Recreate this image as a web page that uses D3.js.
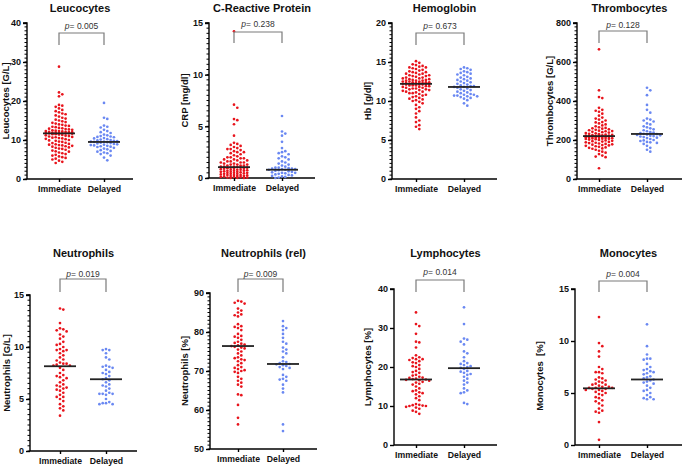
<!DOCTYPE html>
<html><head><meta charset="utf-8">
<script src="https://cdn.jsdelivr.net/npm/d3@7"></script>
<style>
body{margin:0;background:#fff}
svg{display:block}
text{font-family:"Liberation Sans",Arial,Helvetica,sans-serif}
</style>
</head><body>
<svg id="chart" width="685" height="469"></svg>
<script>
// ---------------- DATA ----------------
const categories = ["Immediate", "Delayed"];
const titles = ["Leucocytes", "C-Reactive Protein", "Hemoglobin", "Thrombocytes",
                "Neutrophils", "Neutrophils (rel)", "Lymphocytes", "Monocytes"];
const yTitles = ["Leucocytes [G/L]", "CRP [mg/dl]", "Hb [g/dl]", "Thrombocytes [G/L]",
                 "Neutrophils [G/L]", "Neutrophils [%]", "Lymphocytes [%]", "Monocytes\u00a0\u00a0[%]"];
const yMin = [0, 0, 0, 0, 0, 50, 0, 0];
const yMax = [40, 15, 20, 800, 15, 90, 40, 15];
const majorStep = [10, 5, 5, 200, 5, 10, 10, 5];
const minorStep = [1, 0.5, 0.5, 20, 0.5, 1, null, null];
const pValues = ["0.005", "0.238", "0.673", "0.128", "0.019", "0.009", "0.014", "0.004"];
const medianImmediate = [11.7, 1.05, 12.2, 220, 8.15, 76.4, 16.8, 5.45];
const medianDelayed = [9.5, 0.8, 11.8, 231, 6.9, 71.8, 19.7, 6.3];

const leucImm = [28.8,22.2,21.7,21.2,19.0,18.8,18.5,18.1,17.7,17.4,17.1,16.8,16.6,16.3,16.0,15.7,15.5,15.2,15.0,14.8,14.6,14.4,14.2,14.0,13.9,13.7,13.6,13.4,13.3,13.1,13.0,12.9,12.8,12.7,12.6,12.5,12.4,12.3,12.3,12.2,12.1,12.1,12.0,12.0,11.9,11.9,11.8,11.8,11.8,11.7,11.7,11.7,
  11.6,11.5,11.5,11.4,11.3,11.2,11.1,11.0,10.9,10.8,10.7,10.6,10.5,10.4,10.3,10.2,10.0,9.9,9.8,9.6,9.5,9.3,9.2,9.0,8.9,8.8,8.7,8.6,8.5,8.4,8.3,8.1,8.0,7.8,7.7,7.5,7.3,7.1,7.0,6.8,6.6,6.4,6.2,6.0,5.8,5.6,5.4,5.2,5.0,4.7,4.4,4.1];
const leucDel = [19.5,15.7,15.4,13.7,13.4,13.2,12.6,12.3,12.0,11.8,11.4,11.2,11.0,10.9,10.8,10.7,10.5,10.4,10.2,10.1,10.0,9.9,9.8,9.7,9.6,9.6,9.5,9.4,9.3,9.2,9.1,9.0,8.9,8.8,8.7,8.6,8.5,8.4,8.3,8.2,8.0,7.8,7.6,7.4,7.2,7.0,6.8,6.6,6.4,6.0,5.5,4.8];

const crpImm = [14.2,7.1,6.8,5.7,5.6,5.2,4.1,3.4,3.3,3.2,3.1,3.0,2.9,2.8,2.8,2.7,2.6,2.5,2.5,2.4,2.3,2.2,2.1,2.0,2.0,1.9,1.9,1.8,1.8,1.7,1.7,1.6,1.6,1.5,1.5,1.5,1.4,1.4,1.3,1.3,1.3,1.2,1.2,1.2,1.1,1.1,1.1,1.05,
  1.0,1.0,1.0,0.95,0.9,0.9,0.9,0.85,0.8,0.8,0.8,0.75,0.7,0.7,0.7,0.65,0.6,0.6,0.6,0.55,0.5,0.5,0.5,0.45,0.4,0.4,0.4,0.35,0.3,0.3,0.3,0.25,0.2,0.2,0.2,0.15,0.1,0.1,0.1,0.05,0.05,0.02,0.0,0.0];
const crpDel = [6.0,4.5,4.3,4.1,3.5,2.9,2.6,2.5,2.4,2.3,2.1,2.0,1.9,1.8,1.6,1.5,1.4,1.3,1.2,1.1,1.0,1.0,0.95,0.9,0.9,0.85,0.85,0.8,0.8,0.75,0.7,0.65,0.6,0.55,0.5,0.5,0.45,0.4,0.35,0.3,0.25,0.2,0.15,0.1,0.05,0.0];

const hbImm = [15.1,14.9,14.7,14.6,14.5,14.4,14.3,14.3,14.2,14.1,14.0,13.9,13.8,13.7,13.7,13.6,13.5,13.5,13.4,13.3,13.3,13.2,13.2,13.1,13.0,13.0,12.9,12.9,12.8,12.8,12.7,12.7,12.6,12.6,12.6,12.5,12.5,12.5,12.4,12.4,12.4,12.3,12.3,12.3,12.3,12.2,12.2,12.2,12.2,12.2,12.2,
  12.1,12.1,12.1,12.0,12.0,12.0,11.9,11.9,11.8,11.8,11.7,11.7,11.6,11.6,11.5,11.5,11.4,11.4,11.3,11.2,11.2,11.1,11.0,11.0,10.9,10.8,10.7,10.6,10.5,10.4,10.3,10.2,10.1,10.0,9.9,9.7,9.5,9.2,9.0,8.7,8.4,7.9,7.5,7.3,6.9,6.7,6.4];
const hbDel = [14.3,14.2,14.1,14.0,13.8,13.7,13.6,13.5,13.4,13.3,13.1,13.0,12.9,12.8,12.7,12.6,12.5,12.4,12.3,12.2,12.1,12.0,11.9,11.9,11.8,11.8,11.7,11.6,11.5,11.4,11.3,11.2,11.1,11.0,10.9,10.8,10.8,10.7,10.7,10.6,10.6,10.5,10.4,10.3,10.1,9.7,9.4];

const thrImm = [665,455,420,415,365,355,350,345,335,325,315,310,305,300,292,290,285,280,275,270,265,262,260,258,255,252,250,248,246,245,242,240,238,236,234,232,230,228,226,225,224,223,222,221,220,219,218,218,
  217,216,215,214,213,212,211,210,209,208,207,206,205,204,202,200,198,196,194,192,190,188,186,184,182,180,178,176,174,172,170,168,165,162,160,157,155,150,145,140,135,128,120,115,112,55];
const thrDel = [468,455,430,380,355,340,310,305,300,295,285,280,270,265,260,255,250,245,240,238,235,232,230,228,226,224,222,220,218,215,212,210,205,200,198,195,190,188,185,180,170,160,150,140];

const neuImm = [13.7,13.6,12.3,11.8,11.7,11.6,11.5,11.2,11.0,10.8,10.5,10.3,10.2,10.0,9.8,9.7,9.7,9.6,9.4,9.2,9.0,8.8,8.7,8.5,8.4,8.4,8.3,8.2,8.2,8.0,7.8,7.5,7.3,7.2,7.1,7.0,6.8,6.6,6.4,6.3,6.2,6.1,6.0,5.9,5.8,5.6,5.4,5.2,5.2,5.0,4.8,4.5,4.3,4.1,3.9,3.4];
const neuDel = [9.8,9.7,9.7,9.4,9.0,8.8,8.2,8.1,8.1,8.0,7.8,7.6,7.5,7.4,7.2,7.0,6.9,6.8,6.6,6.4,6.3,6.2,6.0,5.8,5.6,5.5,5.5,5.5,5.4,5.0,4.7,4.6,4.6,4.5,4.5];

const neuRelImm = [88.0,87.8,87.5,87.3,86.0,85.5,85.0,84.5,84.3,84.0,82.0,81.5,81.3,81.0,80.5,79.5,79.0,78.8,78.5,78.0,77.5,77.2,77.0,76.8,76.6,76.4,76.2,76.0,75.8,75.5,75.0,74.5,74.0,73.5,73.3,73.0,72.8,72.5,72.0,71.5,71.0,70.8,70.5,70.2,70.0,69.8,69.5,68.5,68.0,67.5,67.0,66.5,66.0,64.0,63.8,61.3,58.0,56.3];
const neuRelDel = [82.8,81.5,81.0,80.5,79.5,78.5,77.5,77.0,76.0,75.5,75.0,74.5,73.5,72.5,72.3,72.0,71.8,71.7,71.5,71.3,71.0,70.8,70.5,69.0,68.5,68.0,67.8,67.5,66.5,65.5,64.5,56.3,54.6];

const lymImm = [34.0,31.0,30.5,28.5,26.5,26.3,25.0,23.0,22.5,22.3,22.0,22.0,21.8,21.5,21.2,21.0,20.5,20.2,20.0,19.5,19.0,18.7,18.5,18.0,17.8,17.5,17.3,17.2,17.0,16.9,16.8,16.7,16.6,16.5,16.2,16.0,15.7,15.5,15.0,14.5,14.0,13.8,13.5,13.3,13.0,12.5,12.0,11.5,10.5,10.3,10.2,10.1,10.0,10.0,9.8,9.6,9.3,8.8,8.5,8.0];
const lymDel = [35.3,31.0,27.3,27.0,26.5,25.8,24.0,23.5,22.5,21.5,21.0,20.8,20.5,20.2,20.0,19.8,19.5,19.0,18.8,18.5,18.2,18.0,17.5,17.0,16.5,16.0,15.5,14.5,14.0,13.5,13.3,10.8,10.5];

const monoImm = [12.3,9.8,9.5,9.0,8.5,7.5,7.3,7.0,7.0,6.9,6.5,6.4,6.3,6.2,6.1,6.0,5.9,5.8,5.8,5.7,5.6,5.6,5.5,5.5,5.5,5.4,5.4,5.3,5.3,5.2,5.1,5.0,4.9,4.8,4.6,4.5,4.3,4.2,4.0,3.8,3.5,3.3,3.2,3.1,2.2,0.5];
const monoDel = [11.6,9.5,8.7,8.3,8.3,8.2,7.8,7.5,7.3,7.2,7.1,7.0,6.9,6.8,6.6,6.5,6.4,6.3,6.2,6.1,6.0,5.9,5.7,5.5,5.3,5.2,5.0,4.8,4.6,4.5,4.4,4.4];

const immediateSeries = [leucImm, crpImm, hbImm, thrImm, neuImm, neuRelImm, lymImm, monoImm];
const delayedSeries = [leucDel, crpDel, hbDel, thrDel, neuDel, neuRelDel, lymDel, monoDel];

// ---------------- LAYOUT ----------------
const layout = [
  {ax:27,  xe:133, c1:59,  c2:104, yb:179, yt:23,  brT:33,  brB:45,  pY:29,  tY:12,  labX:6},
  {ax:209, xe:315, c1:234, c2:282, yb:178, yt:23,  brT:32,  brB:43,  pY:27,  tY:12,  labX:185},
  {ax:392, xe:497, c1:416, c2:464, yb:179, yt:23,  brT:33,  brB:45,  pY:29,  tY:12,  labX:368},
  {ax:577, xe:682, c1:599, c2:647, yb:179, yt:23,  brT:31,  brB:43,  pY:28,  tY:12,  labX:550},
  {ax:30,  xe:137, c1:60,  c2:106, yb:451, yt:295, brT:279, brB:292, pY:277, tY:257, labX:6.5},
  {ax:210, xe:317, c1:238, c2:283, yb:449, yt:293, brT:279, brB:292, pY:277, tY:257, labX:185},
  {ax:394, xe:497, c1:416, c2:464, yb:445, yt:289, brT:280, brB:292, pY:275, tY:257, labX:368},
  {ax:575, xe:682, c1:599, c2:647, yb:445, yt:289, brT:281, brB:292, pY:277, tY:257, labX:540}
];

const RED = "#e8141c", BLUE = "#6a88f2";
const svg = d3.select("#chart");

// beeswarm placement with limited half-width; overlaps allowed when full
function swarm(values, y, cx, d, maxW) {
  const pts = values.map(v => ({v, y: y(v)})).sort((a, b) => a.y - b.y);
  const placed = [];
  const n = Math.floor(maxW / d);
  pts.forEach(p => {
    let best = null, bestScore = -1;
    for (let k = 0; k <= 2 * n; k++) {
      const off = k === 0 ? 0 : (k % 2 ? 1 : -1) * Math.ceil(k / 2) * d;
      const x = cx + off;
      let minD = Infinity;
      for (const q of placed) {
        const dd = (q.x - x) ** 2 + (q.y - p.y) ** 2;
        if (dd < minD) minD = dd;
      }
      if (minD >= d * d * 0.92) { best = x; break; }
      if (minD > bestScore) { bestScore = minD; best = x; }
    }
    p.x = best;
    placed.push(p);
  });
  return placed;
}

titles.forEach((title, i) => {
  const L = layout[i];
  const g = svg.append("g");
  const y = d3.scaleLinear().domain([yMin[i], yMax[i]]).range([L.yb, L.yt]);
  const x = d3.scalePoint().domain(categories).range([L.c1, L.c2]);

  g.append("text").attr("x", (L.ax + L.xe) / 2).attr("y", L.tY)
    .attr("text-anchor", "middle").attr("font-size", 11).attr("font-weight", "bold")
    .attr("fill", "#111").text(title);

  if (minorStep[i]) {
    const minors = d3.range(yMin[i], yMax[i] + 1e-9, minorStep[i]);
    g.selectAll(".mn").data(minors).join("line")
      .attr("x1", L.ax - 2.5).attr("x2", L.ax).attr("y1", d => y(d)).attr("y2", d => y(d))
      .attr("stroke", "#000").attr("stroke-width", 1);
  }
  const yAxis = d3.axisLeft(y).tickValues(d3.range(yMin[i], yMax[i] + 1e-9, majorStep[i]))
    .tickSize(4).tickPadding(2).tickFormat(d3.format("d"));
  const ya = g.append("g").attr("transform", `translate(${L.ax},0)`).call(yAxis);
  ya.select(".domain").attr("stroke-width", 1.4).attr("d", `M-4,${L.yt}H0V${L.yb}`);
  ya.selectAll(".tick line").attr("stroke-width", 1.4);
  ya.selectAll(".tick text").attr("font-size", 9).attr("font-weight", "bold")
    .attr("font-family", '"Liberation Sans",Arial,sans-serif').attr("fill", "#111");

  const xAxis = d3.axisBottom(x).tickSize(3).tickPadding(4);
  const xa = g.append("g").attr("transform", `translate(0,${L.yb})`).call(xAxis);
  xa.select(".domain").attr("stroke-width", 1.4).attr("d", `M${L.ax},0H${L.xe}`);
  xa.selectAll(".tick line").attr("stroke-width", 1.4);
  xa.selectAll(".tick text").attr("font-size", 8.7).attr("font-weight", "bold")
    .attr("font-family", '"Liberation Sans",Arial,sans-serif').attr("fill", "#111");

  g.append("text").attr("transform", `translate(${L.labX},${(L.yt + L.yb) / 2 + (i === 7 ? 9 : 0)}) rotate(-90)`)
    .attr("text-anchor", "middle").attr("dy", "0.35em").attr("font-size", 9.5)
    .attr("font-weight", "bold").attr("fill", "#111").text(yTitles[i]);

  const groups = [immediateSeries[i], delayedSeries[i]];
  const colors = [RED, BLUE];
  groups.forEach((vals, k) => {
    const pts = swarm(vals, y, x(categories[k]), 3.3, 15);
    g.append("g").selectAll("circle").data(pts).join("circle")
      .attr("cx", d => d.x).attr("cy", d => d.y).attr("r", 1.35).attr("fill", colors[k]);
  });

  [medianImmediate[i], medianDelayed[i]].forEach((m, k) => {
    const cx = x(categories[k]);
    g.append("line").attr("x1", cx - 16).attr("x2", cx + 16)
      .attr("y1", y(m)).attr("y2", y(m)).attr("stroke", "#222").attr("stroke-width", 1.8);
  });

  const b1 = x(categories[0]), b2 = x(categories[1]);
  g.append("path").attr("d", `M${b1},${L.brB}V${L.brT}H${b2}V${L.brB}`)
    .attr("fill", "none").attr("stroke", "#7a7a7a").attr("stroke-width", 1.2);
  const pt = g.append("text").attr("x", (b1 + b2) / 2).attr("y", L.pY)
    .attr("text-anchor", "middle").attr("font-size", 8.5).attr("fill", "#333");
  pt.append("tspan").attr("font-style", "italic").text("p");
  pt.append("tspan").text("= " + pValues[i]);
});
</script>
</body></html>
